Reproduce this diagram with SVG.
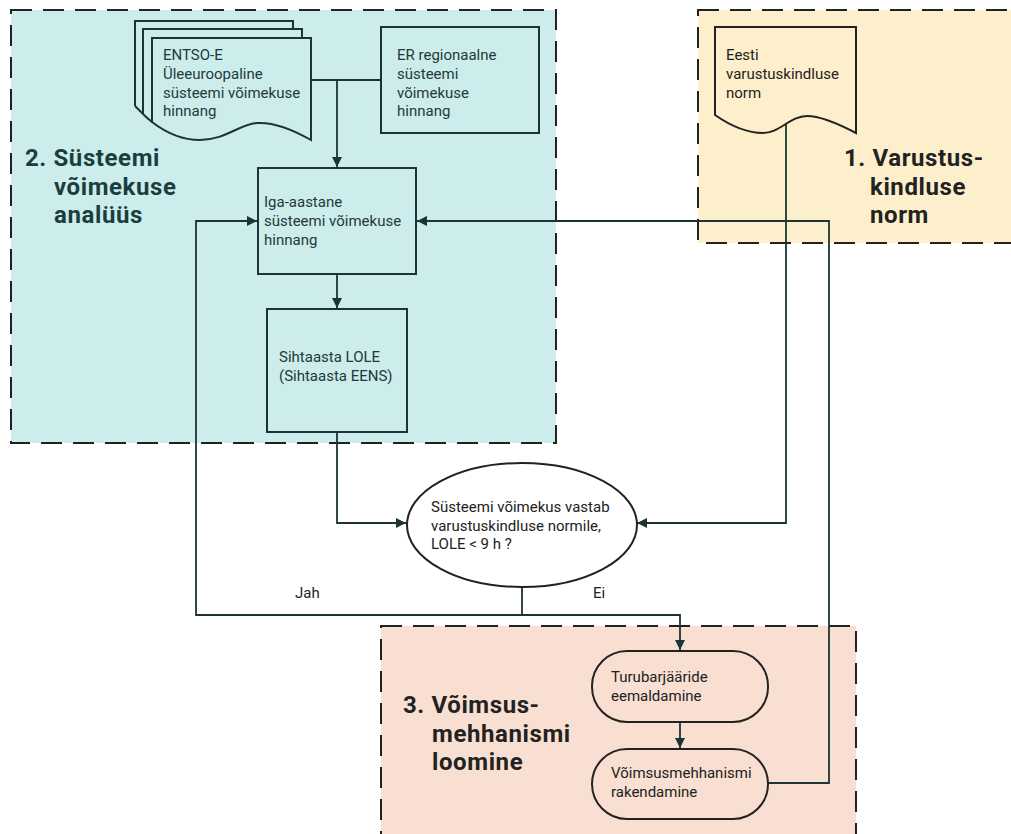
<svg xmlns="http://www.w3.org/2000/svg" width="1011" height="834" viewBox="0 0 1011 834">
<defs>
<style>
.region{stroke:#222;stroke-width:2;stroke-dasharray:21 11}
.node{stroke:#1c3534;stroke-width:2}
.t{font-family:Roboto,"Liberation Sans",sans-serif;font-size:15px;fill:#1f3a39}
.tk{font-family:Roboto,"Liberation Sans",sans-serif;font-size:15px;fill:#222}
.h{font-family:Roboto,"Liberation Sans",sans-serif;font-size:24px;font-weight:bold;letter-spacing:0.6px}
.c{fill:none;stroke:#1c3534;stroke-width:1.8}
</style>
<marker id="a" viewBox="0 0 10 10" refX="10" refY="5" markerWidth="10" markerHeight="10" markerUnits="userSpaceOnUse" orient="auto">
<path d="M0,0 L10,5 L0,10 z" fill="#1c3534"/>
</marker>
</defs>
<rect width="1011" height="834" fill="#fff"/>
<g id="regions">
<rect class="region" x="11" y="10" width="545" height="433" fill="#cdecec"/>
<rect class="region" x="698" y="10" width="330" height="233" fill="#fdefcb"/>
<rect class="region" x="381" y="626" width="475" height="230" fill="#f9dfd1"/>
</g>
<g id="titles">
<text class="h" fill="#183f3d"><tspan x="25" y="166">2. Süsteemi</tspan><tspan x="54" y="194.5">võimekuse</tspan><tspan x="54" y="223">analüüs</tspan></text>
<text class="h" fill="#222"><tspan x="844" y="166">1. Varustus-</tspan><tspan x="870" y="194.5">kindluse</tspan><tspan x="870" y="223">norm</tspan></text>
<text class="h" fill="#222"><tspan x="403" y="713">3. Võimsus-</tspan><tspan x="432" y="741.5">mehhanismi</tspan><tspan x="432" y="770">loomine</tspan></text>
</g>
<g id="connectors">
<path class="c" d="M311,80 H381"/>
<path class="c" d="M337,80 V167" marker-end="url(#a)"/>
<path class="c" d="M337,274 V308" marker-end="url(#a)"/>
<path class="c" d="M337,432 V523 H406" marker-end="url(#a)"/>
<path class="c" d="M786,124 V523 H637" marker-end="url(#a)"/>
<path class="c" d="M522,587 V615"/>
<path class="c" d="M522,615 H196 V221 H257" marker-end="url(#a)"/>
<path class="c" d="M522,615 H680 V650" marker-end="url(#a)"/>
<path class="c" d="M680,722 V748" marker-end="url(#a)"/>
<path class="c" d="M767,783 H829 V221 H417" marker-end="url(#a)"/>
<text class="tk" x="295" y="598">Jah</text>
<text class="tk" x="593" y="598">Ei</text>
</g>
<g id="entsoe">
<path class="node" fill="#cdecec" d="M135,106 V21 H293 V29"/>
<path class="node" fill="none" d="M135,106 Q139,110 143,114"/>
<path class="node" fill="#cdecec" d="M143,114 V29 H302 V38"/>
<path class="node" fill="none" d="M143,114 Q147,118 152,122"/>
<path class="node" fill="#cdecec" d="M152,38 H311 V140 C290,128 272,122 257,123 C240,124 225,140 200,140 C180,140 165,132 152,122 Z"/>
<text class="t"><tspan x="163" y="60">ENTSO-E</tspan><tspan x="163" y="79">Üleeuroopaline</tspan><tspan x="163" y="98">süsteemi võimekuse</tspan><tspan x="163" y="116">hinnang</tspan></text>
</g>
<g id="er">
<rect class="node" x="381" y="27" width="158" height="106" fill="#cdecec"/>
<text class="t"><tspan x="397" y="60">ER regionaalne</tspan><tspan x="397" y="79">süsteemi</tspan><tspan x="397" y="98">võimekuse</tspan><tspan x="397" y="116">hinnang</tspan></text>
</g>
<g id="iga">
<rect class="node" x="258" y="168" width="158" height="106" fill="#cdecec"/>
<text class="t"><tspan x="264" y="207">Iga-aastane</tspan><tspan x="264" y="226">süsteemi võimekuse</tspan><tspan x="264" y="245">hinnang</tspan></text>
</g>
<g id="sihtaasta">
<rect class="node" x="267" y="309" width="140" height="123" fill="#cdecec"/>
<text class="t"><tspan x="279" y="362">Sihtaasta LOLE</tspan><tspan x="279" y="381">(Sihtaasta EENS)</tspan></text>
</g>
<g id="norm">
<path d="M715,27 H856 V133 C835,122 820,116 807,116 C790,116 780,133 763,133 C745,133 728,124 715,115 Z" fill="#fdefcb" stroke="#222" stroke-width="2"/>
<text class="tk"><tspan x="726" y="60">Eesti</tspan><tspan x="726" y="79">varustuskindluse</tspan><tspan x="726" y="98">norm</tspan></text>
</g>
<g id="decision">
<ellipse cx="522" cy="525" rx="115" ry="62" fill="#fff" stroke="#222" stroke-width="2"/>
<text class="tk"><tspan x="431" y="512">Süsteemi võimekus vastab</tspan><tspan x="431" y="531">varustuskindluse normile,</tspan><tspan x="431" y="549">LOLE &lt; 9 h ?</tspan></text>
</g>
<g id="turubarjaaride">
<rect x="592" y="651" width="176" height="71" rx="35" fill="#f9dfd1" stroke="#222" stroke-width="2"/>
<text class="tk"><tspan x="611" y="682">Turubarjääride</tspan><tspan x="611" y="701">eemaldamine</tspan></text>
</g>
<g id="rakendamine">
<rect x="592" y="749" width="176" height="70" rx="35" fill="#f9dfd1" stroke="#222" stroke-width="2"/>
<text class="tk"><tspan x="611" y="778">Võimsusmehhanismi</tspan><tspan x="611" y="797">rakendamine</tspan></text>
</g>
</svg>
